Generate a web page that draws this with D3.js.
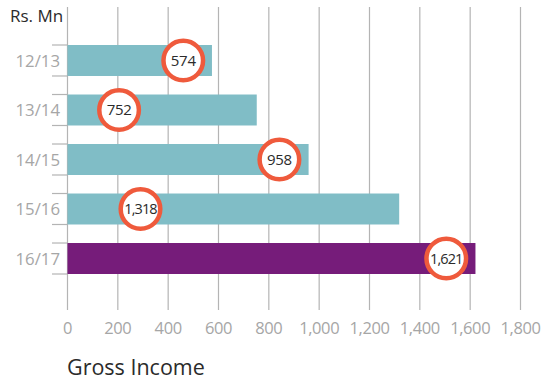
<!DOCTYPE html>
<html>
<head>
<meta charset="utf-8">
<script src="https://cdn.jsdelivr.net/npm/d3@7"></script>
<style>
  html, body { margin: 0; padding: 0; background: #fff; }
  svg { display: block; font-family: "Open Sans", "Noto Sans", sans-serif; }
</style>
</head>
<body>
<svg id="chart" width="543" height="382"></svg>
<script>
// Gross income by financial year (Rs. Mn)
const years = ["12/13", "13/14", "14/15", "15/16", "16/17"];
const income = [574, 752, 958, 1318, 1621];
// where each value badge sits along the axis (in Rs. Mn)
const badgeAt = [460, 205, 842, 290, 1505];
const xTicks = [0, 200, 400, 600, 800, 1000, 1200, 1400, 1600, 1800];

const svg = d3.select("#chart");
const fmt = d3.format(",");

const x = d3.scaleLinear().domain([0, 1800]).range([67.5, 520.5]);
const y = d3.scaleBand().domain(years).range([45, 274]).paddingInner(0.374).paddingOuter(0);

// vertical gridlines with tick marks
svg.append("g").selectAll("line").data(xTicks).join("line")
  .attr("x1", d => x(d)).attr("x2", d => x(d))
  .attr("y1", 7).attr("y2", 310)
  .attr("stroke", "#b4b4b4").attr("stroke-width", 1.2);

// tick labels along the bottom
svg.append("g").selectAll("text").data(xTicks).join("text")
  .attr("x", d => x(d)).attr("y", 334)
  .attr("text-anchor", "middle")
  .attr("font-size", 16.5).attr("fill", "#a6a6a6")
  .attr("letter-spacing", -0.4)
  .text(d => fmt(d));

// category tick marks at each bar's edges
const edges = years.flatMap(c => [y(c), y(c) + y.bandwidth()]);
svg.append("g").selectAll("line").data(edges).join("line")
  .attr("x1", 52).attr("x2", x(0))
  .attr("y1", d => d).attr("y2", d => d)
  .attr("stroke", "#b4b4b4").attr("stroke-width", 1.2);

// bars
svg.append("g").selectAll("rect").data(years).join("rect")
  .attr("x", x(0)).attr("y", d => y(d))
  .attr("width", (d, i) => x(income[i]) - x(0))
  .attr("height", y.bandwidth())
  .attr("fill", (d, i) => i === years.length - 1 ? "#761c7a" : "#80bdc6");

// category labels
svg.append("g").selectAll("text").data(years).join("text")
  .attr("x", 60).attr("y", d => y(d) + y.bandwidth() / 2)
  .attr("dy", "0.36em").attr("text-anchor", "end")
  .attr("font-size", 16.8).attr("fill", "#a6a6a6")
  .text(d => d);

// value badges
const badges = svg.append("g").selectAll("g").data(years).join("g")
  .attr("transform", (d, i) => `translate(${x(badgeAt[i])},${y(d) + y.bandwidth() / 2})`);
badges.append("circle").attr("r", 19.8)
  .attr("fill", "#fff").attr("stroke", "#ef5a3c").attr("stroke-width", 4.5);
badges.append("text")
  .attr("text-anchor", "middle").attr("dy", "0.36em")
  .attr("font-size", (d, i) => income[i] >= 1000 ? 14.5 : 15)
  .attr("fill", "#2b2b2b")
  .attr("letter-spacing", (d, i) => income[i] >= 1000 ? -0.9 : -0.3)
  .text((d, i) => fmt(income[i]));

// unit and axis titles
svg.append("text").attr("x", 10).attr("y", 22.3)
  .attr("font-size", 17).attr("fill", "#2b2b2b").text("Rs. Mn");
svg.append("text").attr("x", 67).attr("y", 375)
  .attr("font-size", 21.5).attr("fill", "#2b2b2b").text("Gross Income");
</script>
</body>
</html>
